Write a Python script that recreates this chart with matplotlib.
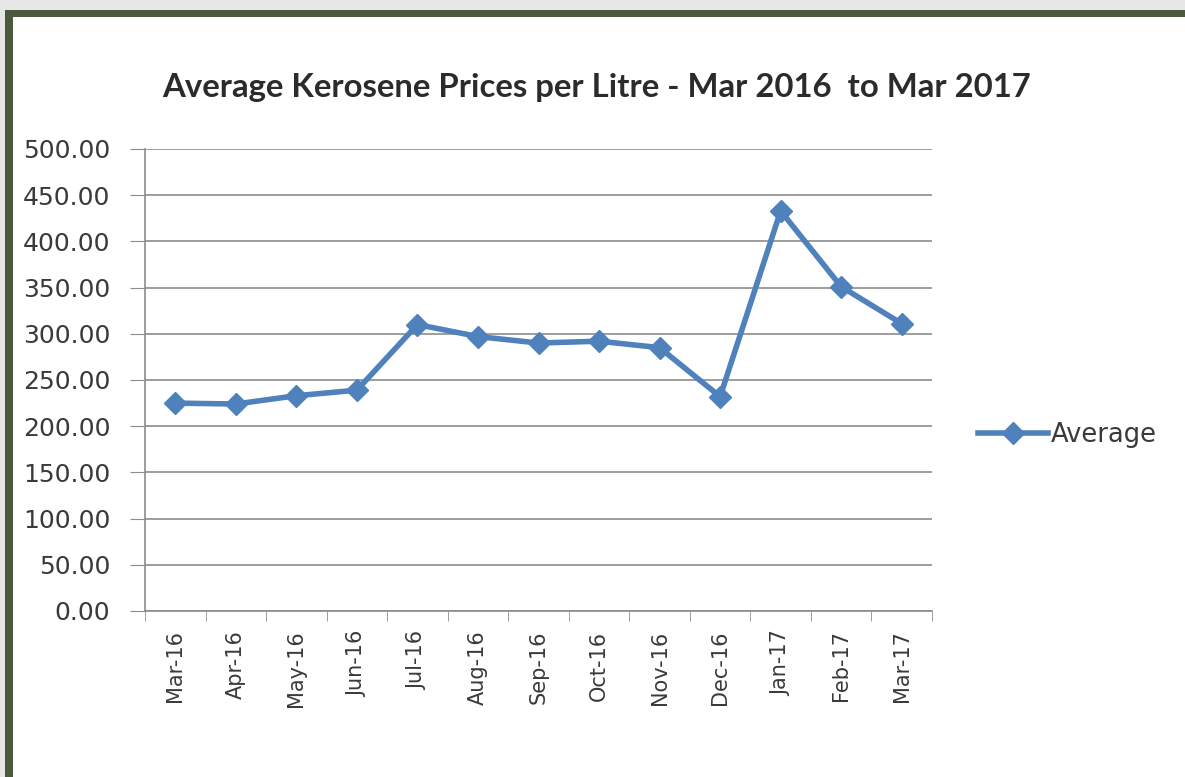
import numpy as np
import matplotlib.pyplot as plt
from matplotlib.patches import Rectangle

months = ['Mar-16', 'Apr-16', 'May-16', 'Jun-16', 'Jul-16', 'Aug-16', 'Sep-16',
          'Oct-16', 'Nov-16', 'Dec-16', 'Jan-17', 'Feb-17', 'Mar-17']
average = [225, 224, 233, 239, 310, 297, 290, 292, 285, 232, 433, 351, 311]
yticks = [0, 50, 100, 150, 200, 250, 300, 350, 400, 450, 500]

W, H = 1185, 777
fig = plt.figure(figsize=(W / 100, H / 100), dpi=100, facecolor='#e7e7e5')

# frame: dark border then white page
fig.patches.append(Rectangle((5 / W, 0), 1, 1 - 10 / H, transform=fig.transFigure,
                             facecolor='#4b5a3f', edgecolor='none', zorder=-2))
fig.patches.append(Rectangle((13 / W, 0), 1, 1 - 17 / H, transform=fig.transFigure,
                             facecolor='white', edgecolor='none', zorder=-1))

ax = fig.add_axes([145 / W, 1 - 611 / H, (932 - 145) / W, (611 - 149) / H])
ax.set_facecolor('none')
ax.set_zorder(1)

x = np.arange(len(months))
ax.plot(x, average, color='#4f81bd', lw=4, marker='D', ms=11,
        markeredgecolor='#4f81bd', label='Average', zorder=3)

ax.set_xlim(-0.5, len(months) - 0.5)
ax.set_ylim(0, 500)
ax.set_yticks(yticks)
ax.set_yticklabels(['%.2f' % v for v in yticks])
ax.yaxis.grid(True, color='#8c8c8c', lw=1.2)
ax.set_xticks(x)
ax.set_xticklabels(months, rotation=90)
ax.set_xticks(np.arange(len(months) + 1) - 0.5, minor=True)
ax.tick_params(axis='x', which='major', length=0, pad=14)
ax.tick_params(axis='x', which='minor', length=7, color='#8c8c8c', direction='out')
ax.tick_params(axis='y', length=11, color='#8c8c8c', pad=14)
for lab in ax.get_yticklabels():
    lab.set_fontsize(18)
    lab.set_color('#3a3a3a')
for lab in ax.get_xticklabels():
    lab.set_fontsize(15)
    lab.set_color('#3a3a3a')

for s in ['top', 'right']:
    ax.spines[s].set_visible(False)
for s in ['left', 'bottom']:
    ax.spines[s].set_color('#8c8c8c')
    ax.spines[s].set_linewidth(1.2)

fig.text(597 / W, 1 - 88 / H, 'Average Kerosene Prices per Litre - Mar 2016  to Mar 2017',
         ha='center', va='center', fontsize=23.7, fontweight='bold',
         family='Lato', color='#2b2b2b')

leg = ax.legend(loc='center left', bbox_to_anchor=(1.059, 0.381), frameon=False,
                handlelength=2.7, handletextpad=0.1, borderpad=0, borderaxespad=0,
                prop={'size': 18.5})
for t in leg.get_texts():
    t.set_color('#3a3a3a')

fig.savefig('out.png', dpi=100, facecolor=fig.get_facecolor())
